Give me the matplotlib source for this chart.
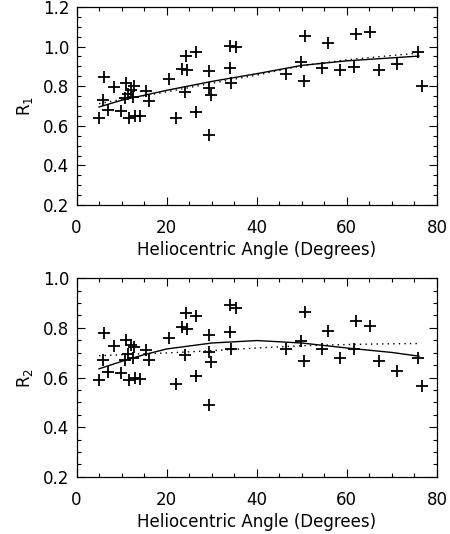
import numpy as np
import matplotlib
matplotlib.use("Agg")
import matplotlib.pyplot as plt
from matplotlib.ticker import MultipleLocator

plt.rcParams["font.family"] = ["DejaVu Sans"]

# ---- data ----
angle = [5.0, 6.1, 5.9, 7.0, 8.3, 9.9, 10.9, 10.7, 11.7, 12.1, 12.7, 12.6,
         12.9, 14.0, 11.5, 15.4, 16.0, 20.5, 22.0, 23.5, 24.4, 24.5, 24.1,
         26.6, 26.6, 29.4, 29.3, 29.9, 29.4, 34.0, 35.3, 34.1, 34.4, 46.6,
         49.8, 50.7, 50.5, 54.5, 55.8, 58.4, 61.6, 62.0, 65.1, 67.1, 71.2,
         75.9, 76.7]
r1 = [0.640, 0.846, 0.728, 0.680, 0.794, 0.675, 0.815, 0.741, 0.640, 0.782,
      0.800, 0.745, 0.652, 0.649, 0.760, 0.774, 0.724, 0.838, 0.637, 0.886,
      0.950, 0.880, 0.769, 0.975, 0.672, 0.878, 0.790, 0.757, 0.556, 1.003,
      1.000, 0.893, 0.814, 0.861, 0.920, 1.052, 0.824, 0.891, 1.018, 0.883,
      0.897, 1.065, 1.072, 0.883, 0.913, 0.975, 0.802]
r2 = [0.591, 0.780, 0.670, 0.624, 0.728, 0.620, 0.750, 0.672, 0.591, 0.732,
      0.722, 0.678, 0.597, 0.593, 0.695, 0.712, 0.670, 0.759, 0.573, 0.805,
      0.861, 0.797, 0.692, 0.847, 0.607, 0.773, 0.701, 0.661, 0.489, 0.891,
      0.881, 0.782, 0.715, 0.715, 0.746, 0.865, 0.665, 0.715, 0.789, 0.678,
      0.715, 0.827, 0.807, 0.665, 0.628, 0.678, 0.564]

# fitted curves
fit_x = [5.0, 10, 15, 20, 30, 40, 50, 60, 70, 76.0]
r1_fit_solid = [0.695, 0.729, 0.754, 0.779, 0.824, 0.863, 0.905, 0.928, 0.943, 0.952]
r1_fit_dot = [0.712, 0.733, 0.752, 0.771, 0.815, 0.856, 0.903, 0.933, 0.955, 0.967]
r2_fit_solid = [0.635, 0.665, 0.692, 0.715, 0.739, 0.749, 0.739, 0.719, 0.701, 0.686]
r2_fit_dot = [0.688, 0.692, 0.696, 0.699, 0.708, 0.719, 0.728, 0.733, 0.736, 0.737]

XLABEL = "Heliocentric Angle (Degrees)"
FS = 12

fig = plt.figure(figsize=(4.5, 5.34), dpi=100)
fig.patch.set_facecolor("white")
ax1 = fig.add_axes([0.170, 0.616, 0.801, 0.371])
ax2 = fig.add_axes([0.170, 0.107, 0.801, 0.372])


def style(ax, ylo, yhi, ylabel):
    ax.set_xlim(0, 80)
    ax.set_ylim(ylo, yhi)
    ax.xaxis.set_major_locator(MultipleLocator(20))
    ax.xaxis.set_minor_locator(MultipleLocator(5))
    ax.yaxis.set_major_locator(MultipleLocator(0.2))
    ax.yaxis.set_minor_locator(MultipleLocator(0.05))
    ax.yaxis.set_major_formatter(plt.FuncFormatter(lambda v, p: f"{v:.1f}"))
    ax.tick_params(which="both", direction="in", top=True, right=True,
                   width=0.8, labelsize=FS)
    ax.tick_params(axis="x", pad=10)
    ax.tick_params(axis="y", pad=5)
    ax.tick_params(which="major", length=6)
    ax.tick_params(which="minor", length=3)
    for s in ax.spines.values():
        s.set_linewidth(0.9)
    ax.set_xlabel(XLABEL, fontsize=FS, labelpad=3)
    ax.set_ylabel(ylabel, fontsize=FS, labelpad=6)


for ax, r, solid, dot, lims, lab in [
        (ax1, r1, r1_fit_solid, r1_fit_dot, (0.2, 1.2), "R$_1$"),
        (ax2, r2, r2_fit_solid, r2_fit_dot, (0.2, 1.0), "R$_2$")]:
    ax.plot(angle, r, ls="none", marker="+", ms=9, mew=1.3, color="black")
    ax.plot(fit_x, solid, color="black", lw=1.0)
    ax.plot(fit_x, dot, color="black", lw=1.0, ls=(0, (1, 3)))
    style(ax, lims[0], lims[1], lab)

fig.savefig("out.png", dpi=100, facecolor="white")
